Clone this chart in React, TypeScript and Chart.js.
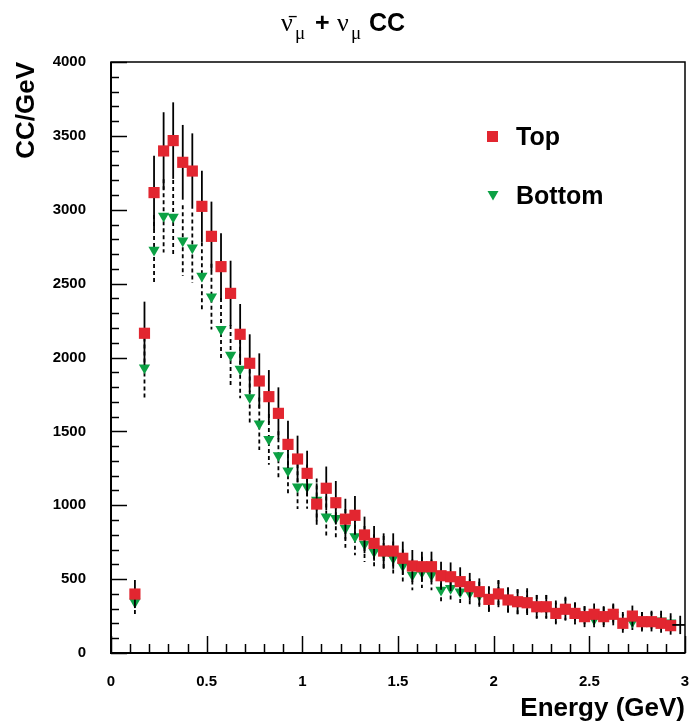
import React, { useEffect, useRef } from 'react';
import { Chart, registerables } from 'chart.js';

Chart.register(...registerables);

// ---- data ----
const energies = [
  0.125, 0.175, 0.225, 0.275, 0.325, 0.375, 0.425, 0.475, 0.525, 0.575,
  0.625, 0.675, 0.725, 0.775, 0.825, 0.875, 0.925, 0.975, 1.025, 1.075,
  1.125, 1.175, 1.225, 1.275, 1.325, 1.375, 1.425, 1.475, 1.525, 1.575,
  1.625, 1.675, 1.725, 1.775, 1.825, 1.875, 1.925, 1.975, 2.025, 2.075,
  2.125, 2.175, 2.225, 2.275, 2.325, 2.375, 2.425, 2.475, 2.525, 2.575,
  2.625, 2.675, 2.725, 2.775, 2.825, 2.875, 2.925, 2.975,
];

const topValues = [
  399, 2164, 3116, 3398, 3468, 3321, 3262, 3023, 2820, 2615,
  2434, 2157, 1961, 1841, 1735, 1622, 1412, 1313, 1216, 1008,
  1115, 1017, 906, 932, 799, 742, 690, 690, 641, 589,
  584, 584, 523, 516, 483, 449, 415, 363, 400, 359,
  347, 340, 313, 313, 268, 296, 268, 246, 262, 246,
  262, 201, 250, 212, 212, 201, 185, 190,
];

const topErrors = [
  95, 214, 250, 262, 259, 253, 255, 241, 235, 226,
  221, 205, 196, 187, 180, 176, 160, 158, 153, 140,
  147, 147, 138, 131, 124, 117, 120, 120, 113, 108,
  102, 102, 95, 97, 97, 93, 90, 85, 90, 85,
  84, 83, 80, 80, 74, 77, 74, 71, 73, 71,
  73, 64, 71, 66, 66, 64, 61, 62,
];

const bottomValues = [
  345, 1931, 2728, 2958, 2951, 2791, 2743, 2552, 2412, 2191,
  2017, 1922, 1730, 1552, 1446, 1336, 1234, 1126, 1126, 1036,
  923, 912, 844, 788, 738, 686, 675, 641, 591, 528,
  546, 528, 426, 438, 415, 408, 393, 365, 404, 359,
  347, 354, 313, 313, 280, 302, 268, 246, 228, 241,
  257, 212, 212, 212, 219, 219, 205,
];

const bottomErrors = [
  88, 205, 237, 248, 250, 240, 238, 228, 222, 212,
  203, 198, 188, 178, 172, 165, 158, 151, 150, 145,
  137, 136, 131, 127, 122, 118, 117, 114, 110, 104,
  106, 104, 93, 94, 92, 91, 89, 86, 90, 85,
  84, 85, 80, 80, 75, 78, 74, 71, 68, 70,
  72, 66, 66, 66, 67, 67, 64,
];

const xTickLabels = ['0', '0.5', '1', '1.5', '2', '2.5', '3'];
const yTickLabels = ['0', '500', '1000', '1500', '2000', '2500', '3000', '3500', '4000'];
const seriesNames = ['Top', 'Bottom'];

const RED = 'rgb(226, 38, 48)';
const GREEN = 'rgb(12, 161, 68)';
const SANS = '"Liberation Sans", Arial, Helvetica, sans-serif';
const SERIF = '"Liberation Serif", "Times New Roman", serif';

const lastTop = energies.length - 1;

const framePlugin = {
  id: 'frameTicks',
  beforeDatasetsDraw(chart: any) {
    const { ctx, chartArea: a, scales } = chart;
    const xs = scales.x;
    const ys = scales.y;
    ctx.save();
    ctx.strokeStyle = '#000';
    ctx.lineWidth = 1.5;
    for (let k = 0; k <= 40; k++) {
      const v = k * 100;
      const py = Math.round(ys.getPixelForValue(v)) + 0.5;
      const len = k % 5 === 0 ? 16 : 8;
      ctx.beginPath();
      ctx.moveTo(a.left, py);
      ctx.lineTo(a.left + len, py);
      ctx.stroke();
    }
    for (let k = 0; k <= 30; k++) {
      const v = k / 10;
      const px = Math.round(xs.getPixelForValue(v)) + 0.5;
      const len = k % 5 === 0 ? 17 : 9;
      ctx.beginPath();
      ctx.moveTo(px, a.bottom);
      ctx.lineTo(px, a.bottom - len);
      ctx.stroke();
    }
    ctx.lineWidth = 1.5;
    ctx.strokeRect(a.left, a.top, a.right - a.left, a.bottom - a.top);
    ctx.lineWidth = 2;
    ctx.beginPath();
    ctx.moveTo(a.left, a.top);
    ctx.lineTo(a.left, a.bottom);
    ctx.lineTo(a.right, a.bottom);
    ctx.stroke();
    ctx.restore();
  },
};

const errorBarPlugin = {
  id: 'errorBars',
  beforeDatasetDraw(chart: any, args: any) {
    const ds: any = chart.data.datasets[args.index];
    const errs: number[] = ds.errors;
    if (!errs) return;
    const { ctx, chartArea: a } = chart;
    const ys = chart.scales.y;
    ctx.save();
    ctx.beginPath();
    ctx.rect(a.left, a.top, a.right - a.left, a.bottom - a.top);
    ctx.clip();
    ctx.strokeStyle = '#000';
    ctx.lineWidth = 1.8;
    ctx.setLineDash(ds.errorDash || []);
    args.meta.data.forEach((pt: any, i: number) => {
      const v = ds.data[i].y;
      const e = errs[i];
      ctx.beginPath();
      ctx.moveTo(pt.x, ys.getPixelForValue(v + e));
      ctx.lineTo(pt.x, ys.getPixelForValue(v - e));
      ctx.stroke();
    });
    ctx.restore();
  },
};

const textPlugin = {
  id: 'titleLegend',
  afterDraw(chart: any) {
    const { ctx } = chart;
    ctx.save();
    ctx.fillStyle = '#000';
    ctx.textAlign = 'left';
    ctx.textBaseline = 'alphabetic';
    ctx.font = `26px ${SERIF}`;
    ctx.fillText('\u03BD\u0304', 281, 31);
    ctx.font = `19px ${SERIF}`;
    ctx.fillText('\u03BC', 295, 39);
    ctx.font = `bold 25px ${SANS}`;
    ctx.fillText('+', 315, 31);
    ctx.font = `26px ${SERIF}`;
    ctx.fillText('\u03BD', 337, 31);
    ctx.font = `19px ${SERIF}`;
    ctx.fillText('\u03BC', 351, 39);
    ctx.font = `bold 25px ${SANS}`;
    ctx.fillText('CC', 369, 31);

    ctx.fillStyle = RED;
    ctx.fillRect(487, 131, 11, 11);
    ctx.fillStyle = GREEN;
    ctx.beginPath();
    ctx.moveTo(487.5, 191);
    ctx.lineTo(498.5, 191);
    ctx.lineTo(493, 200.5);
    ctx.closePath();
    ctx.fill();
    ctx.fillStyle = '#000';
    ctx.font = `bold 25px ${SANS}`;
    ctx.fillText(seriesNames[0], 516, 145);
    ctx.fillText(seriesNames[1], 516, 204);
    ctx.restore();
  },
};

export default function App() {
  const ref = useRef<HTMLCanvasElement>(null);

  useEffect(() => {
    const canvas = ref.current;
    if (!canvas) return;
    const chart = new Chart(canvas, {
      type: 'scatter',
      data: {
        datasets: [
          {
            label: seriesNames[0],
            data: energies.map((x, i) => ({ x, y: topValues[i] })),
            errors: topErrors,
            errorDash: [],
            showLine: false,
            pointStyle: (c: any) => (c.dataIndex === lastTop ? 'line' : 'rect'),
            pointRadius: 7.9,
            backgroundColor: RED,
            borderColor: (c: any) => (c.dataIndex === lastTop ? '#000' : RED),
            borderWidth: (c: any) => (c.dataIndex === lastTop ? 1.8 : 0),
          } as any,
          {
            label: seriesNames[1],
            data: bottomValues.map((y, i) => ({ x: energies[i], y })),
            errors: bottomErrors,
            errorDash: [4, 3],
            showLine: false,
            pointStyle: 'triangle',
            rotation: 180,
            pointRadius: 6.5,
            backgroundColor: GREEN,
            borderColor: GREEN,
            borderWidth: 0,
          } as any,
        ],
      },
      options: {
        animation: false,
        responsive: false,
        devicePixelRatio: 1,
        events: [],
        layout: { autoPadding: false, padding: { top: 62, right: 4, left: 0, bottom: 0 } },
        plugins: {
          legend: { display: false },
          tooltip: { enabled: false },
          title: { display: false },
        },
        scales: {
          x: {
            type: 'linear',
            min: 0,
            max: 3,
            afterFit: (s: any) => {
              s.height = 70;
              s.paddingLeft = 0;
              s.paddingRight = 0;
            },
            grid: { display: false, drawTicks: false },
            border: { display: false },
            ticks: {
              stepSize: 0.5,
              padding: 20,
              color: '#000',
              maxRotation: 0,
              autoSkip: false,
              font: { family: SANS, weight: 'bold', size: 15 },
              callback: (_v: any, i: number) => xTickLabels[i],
            },
            title: {
              display: true,
              text: 'Energy (GeV)',
              align: 'end',
              color: '#000',
              font: { family: SANS, weight: 'bold', size: 26 },
              padding: { top: 0, bottom: -1 },
            },
          },
          y: {
            type: 'linear',
            min: 0,
            max: 4000,
            afterFit: (s: any) => {
              s.width = 111;
            },
            grid: { display: false, drawTicks: false },
            border: { display: false },
            ticks: {
              stepSize: 500,
              padding: 25,
              color: '#000',
              autoSkip: false,
              font: { family: SANS, weight: 'bold', size: 15 },
              callback: (_v: any, i: number) => yTickLabels[i],
            },
            title: {
              display: true,
              text: 'CC/GeV',
              align: 'end',
              color: '#000',
              font: { family: SANS, weight: 'bold', size: 26 },
              padding: { top: 11, bottom: 0 },
            },
          },
        },
      } as any,
      plugins: [framePlugin, errorBarPlugin, textPlugin],
    });
    return () => chart.destroy();
  }, []);

  return (
    <div style={{ position: 'fixed', left: 0, top: 0, width: 689, height: 723, background: '#fff' }}>
      <canvas ref={ref} width={689} height={723} style={{ display: 'block', width: 689, height: 723 }} />
    </div>
  );
}
